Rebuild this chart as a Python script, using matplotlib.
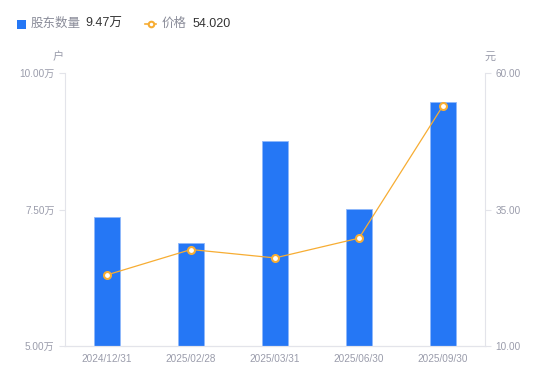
import matplotlib.pyplot as plt
from matplotlib.patches import Rectangle
from matplotlib.lines import Line2D

plt.rcParams['font.family'] = ['Liberation Sans', 'Noto Sans CJK SC', 'DejaVu Sans']

# data
dates = ['2024/12/31', '2025/02/28', '2025/03/31', '2025/06/30', '2025/09/30']
holders = [7.37, 6.88, 8.75, 7.51, 9.47]   # 万户
price = [23.02, 27.67, 26.13, 29.75, 54.02]
left_ticks = [5.0, 7.5, 10.0]
right_ticks = [10.0, 35.0, 60.0]

blue = '#2577f5'
orange = '#f7ad33'
gray_text = '#9a9cab'
axis_col = '#e3e4ea'

W, H = 550, 381
fig = plt.figure(figsize=(W / 100, H / 100), dpi=100)
ax = fig.add_axes([65 / W, 1 - 346 / H, 420 / W, 273 / H])
ax2 = ax.twinx()

x = list(range(len(dates)))
ax.bar(x, holders, width=0.3, color=blue, edgecolor='#8fb8fb', linewidth=0.6, zorder=2)
ax.set_xlim(-0.5, len(dates) - 0.5)
ax.set_ylim(left_ticks[0], left_ticks[-1])
ax.set_yticks(left_ticks)
ax.set_yticklabels([f'{v:.2f}万' for v in left_ticks])
ax.set_xticks(x)
ax.set_xticklabels(dates)

ax2.plot(x, price, color=orange, linewidth=0.9, marker='o', markersize=5,
         markerfacecolor='white', markeredgecolor=orange, markeredgewidth=1.5, zorder=3)
ax2.set_ylim(right_ticks[0], right_ticks[-1])
ax2.set_yticks(right_ticks)
ax2.set_yticklabels([f'{v:.2f}' for v in right_ticks])

for a in (ax, ax2):
    for s in a.spines.values():
        s.set_color(axis_col)
    a.spines['top'].set_visible(False)
    a.tick_params(colors=axis_col, labelcolor=gray_text, labelsize=7.2, length=4, width=0.8)
ax.spines['right'].set_visible(False)
ax2.spines['left'].set_visible(False)
ax.tick_params(axis='x', length=0, pad=6)

# unit labels
fig.text(58 / W, 1 - 57 / H, '户', color=gray_text, fontsize=8, ha='center', va='center')
fig.text(490 / W, 1 - 57 / H, '元', color=gray_text, fontsize=8, ha='center', va='center')

# legend row
fig.add_artist(Rectangle((17 / W, 1 - 28.5 / H), 8.5 / W, 8.5 / H, transform=fig.transFigure,
                         facecolor=blue, edgecolor='none'))
fig.text(31 / W, 1 - 24 / H, '股东数量', color='#8a8c99', fontsize=9, va='center')
fig.text(85 / W, 1 - 24 / H, f'{holders[-1]:.2f}万', color='#333333', fontsize=9, va='center')
fig.add_artist(Line2D([145 / W, 156 / W], [1 - 24 / H, 1 - 24 / H], transform=fig.transFigure,
                      color=orange, linewidth=1.2))
fig.add_artist(Line2D([150.5 / W], [1 - 24 / H], transform=fig.transFigure, marker='o',
                      markersize=4, markerfacecolor='white', markeredgecolor=orange,
                      markeredgewidth=1.5))
fig.text(162 / W, 1 - 24 / H, '价格', color='#8a8c99', fontsize=9, va='center')
fig.text(193 / W, 1 - 24 / H, f'{price[-1]:.3f}', color='#333333', fontsize=9, va='center')

fig.savefig('out.png', dpi=100)
